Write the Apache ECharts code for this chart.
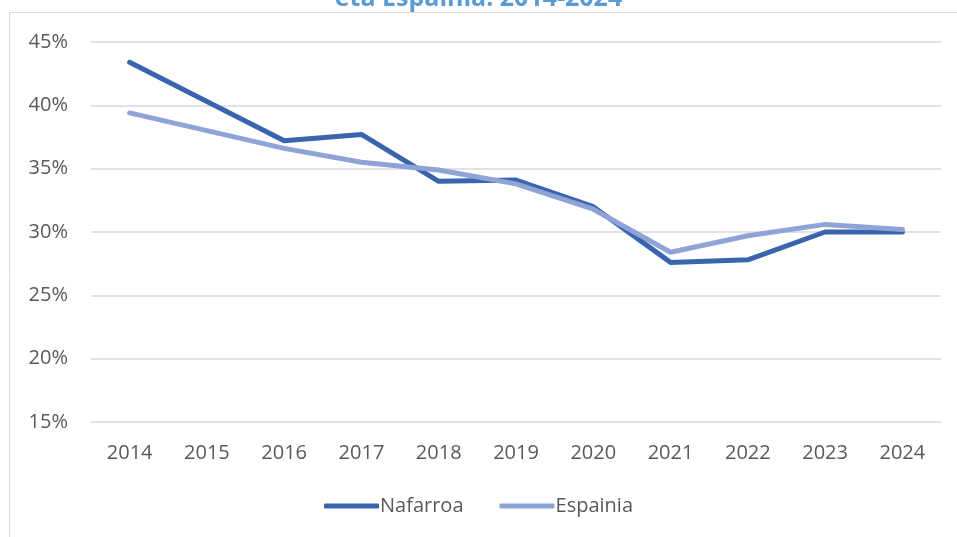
<!DOCTYPE html>
<html><head><meta charset="utf-8">
<script src="https://cdn.jsdelivr.net/npm/echarts@6/dist/echarts.min.js"></script>
<style>html,body{margin:0;padding:0;background:#fff}#c{width:957px;height:537px}</style>
</head><body><div id="c"></div>
<script>
const years = ['2014','2015','2016','2017','2018','2019','2020','2021','2022','2023','2024'];
const nafarroa = [43.4, 40.3, 37.2, 37.7, 34.0, 34.1, 32.0, 27.6, 27.8, 30.0, 30.0];
const espainia = [39.4, 38.0, 36.6, 35.5, 34.9, 33.8, 31.8, 28.4, 29.7, 30.6, 30.2];
const titleText = 'eta Espainia. 2014-2024';
const chart = echarts.init(document.getElementById('c'));
const font = 'Open Sans, Noto Sans, sans-serif';
chart.setOption({
  animation: false,
  title: { text: titleText, left: 'center', top: -19,
    textStyle: { color: '#5B9BD5', fontSize: 25, fontWeight: 'bold', fontFamily: font } },
  graphic: [{ type: 'rect', silent: true, z: -1,
    shape: { x: 9.5, y: 12.5, width: 1000, height: 600 },
    style: { fill: 'none', stroke: '#d9d9d9', lineWidth: 1 } }],
  grid: { left: 91, right: 16, top: 42, bottom: 115, containLabel: false },
  legend: { bottom: 16, left: 'center', itemWidth: 55, itemHeight: 5, itemGap: 36, icon: 'roundRect',
    textStyle: { color: '#595959', fontSize: 20, fontFamily: font, padding: [0,0,0,-4] },
    data: ['Nafarroa', 'Espainia'] },
  xAxis: { type: 'category', data: years, boundaryGap: true,
    axisLine: { show: false }, axisTick: { show: false },
    axisLabel: { color: '#595959', fontSize: 20, fontFamily: font, margin: 21 } },
  yAxis: { type: 'value', min: 15, max: 45, interval: 5,
    axisLabel: { formatter: '{value}%', color: '#595959', fontSize: 20, fontFamily: font, margin: 23 },
    splitLine: { lineStyle: { color: '#d9d9d9', width: 1.5 } },
    axisLine: { show: false }, axisTick: { show: false } },
  series: [
    { name: 'Nafarroa', type: 'line', data: nafarroa, symbol: 'none',
      lineStyle: { color: '#3A64AE', width: 5, cap: 'round', join: 'round' }, itemStyle: { color: '#3A64AE' } },
    { name: 'Espainia', type: 'line', data: espainia, symbol: 'none',
      lineStyle: { color: '#8FA4D6', width: 5, cap: 'round', join: 'round' }, itemStyle: { color: '#8FA4D6' } }
  ]
});
</script></body></html>
